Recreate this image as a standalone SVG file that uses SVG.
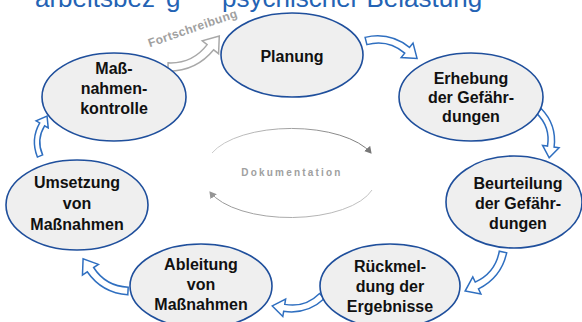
<svg xmlns="http://www.w3.org/2000/svg" xmlns:xlink="http://www.w3.org/1999/xlink" width="582" height="322" viewBox="0 0 582 322">
  <style>
    .node ellipse { fill: #efefef; stroke: #1f4f9c; stroke-width: 1.6; }
    .node text { font-family: "Liberation Sans", Arial, sans-serif; font-weight: bold; font-size: 16px; fill: #111; text-anchor: middle; }
    .title { font-family: "Liberation Sans", Arial, sans-serif; font-size: 26px; fill: #2463b4; }
    .blk { fill: #ffffff; stroke: #2f6fc0; stroke-width: 1.5; }
    .blk-gray { fill: #ffffff; stroke: #a8a8a8; stroke-width: 1.5; }
    .doc { fill: none; stroke-width: 1; }
    .lbl-gray { font-family: "Liberation Sans", Arial, sans-serif; font-weight: bold; fill: #a0a0a0; }
  </style>
  <defs>
    <path id="carrow" vector-effect="non-scaling-stroke" d="M-1.43,1.14 Q18,-8.2 37.43,1.14 L39.58,-3.15 L45.83,8.92 L32.42,11.15 L34.57,6.86 Q18,-1.8 1.43,6.86 Z"/>
    <linearGradient id="gUp" x1="0" y1="0" x2="1" y2="0">
      <stop offset="0" stop-color="#cccccc"/>
      <stop offset="1" stop-color="#777777"/>
    </linearGradient>
    <linearGradient id="gDn" x1="1" y1="0" x2="0" y2="0">
      <stop offset="0" stop-color="#c4c4c4"/>
      <stop offset="1" stop-color="#959595"/>
    </linearGradient>
    <marker id="mh" markerWidth="8" markerHeight="8" refX="6" refY="4" orient="auto" markerUnits="userSpaceOnUse">
      <path d="M0,0 L7,4 L0,8 Z" fill="#777777"/>
    </marker>
    <marker id="mh2" markerWidth="8" markerHeight="8" refX="6" refY="4" orient="auto" markerUnits="userSpaceOnUse">
      <path d="M0,0 L7,4 L0,8 Z" fill="#959595"/>
    </marker>
  </defs>

  <g id="title">
    <text class="title" x="35" y="7">arbeitsbez</text>
    <text class="title" x="166" y="7">g</text>
    <text class="title" x="222" y="7">psychischer Belastung</text>
  </g>

  <g id="connectors">
    <use href="#carrow" class="blk" transform="translate(366,41) rotate(12.7) scale(1.17) translate(0,-4)"/>
    <use href="#carrow" class="blk" transform="translate(539,111) rotate(71.6) scale(1.04) translate(0,-4)"/>
    <use href="#carrow" class="blk" transform="translate(503,252) rotate(128) scale(1.18) translate(0,-4)"/>
    <use href="#carrow" class="blk" transform="translate(322,296) rotate(162.6) scale(1.1) translate(0,-4)"/>
    <use href="#carrow" class="blk" transform="translate(128,291) rotate(209.6) scale(1.2) translate(0,-4)"/>
    <use href="#carrow" class="blk" transform="translate(40,156) rotate(-86.1) scale(0.88) translate(0,-4)"/>
    <use href="#carrow" class="blk-gray" transform="translate(168,67) rotate(-25) scale(1.3,-1.3) translate(0,-4)"/>
    <text class="lbl-gray" font-size="12" letter-spacing="0.4" text-anchor="middle" transform="translate(194,32) rotate(-19)">Fortschreibung</text>
    <path class="doc" stroke="url(#gUp)" marker-end="url(#mh)" d="M212,153 A85,38 0 0 1 371,153"/>
    <path class="doc" stroke="url(#gDn)" marker-end="url(#mh2)" d="M372,190 A85,38 0 0 1 210,192"/>
    <text class="lbl-gray" font-size="10" letter-spacing="2.2" fill="#828282" text-anchor="middle" x="292" y="176">Dokumentation</text>
  </g>

  <g id="n-planung" class="node">
    <ellipse cx="292" cy="55" rx="71" ry="42"/>
    <text x="292" y="62">Planung</text>
  </g>
  <g id="n-erhebung" class="node">
    <ellipse cx="471" cy="97" rx="72" ry="44"/>
    <text x="471" y="84">Erhebung</text>
    <text x="471" y="103">der Gefähr-</text>
    <text x="471" y="122">dungen</text>
  </g>
  <g id="n-beurteilung" class="node">
    <ellipse cx="514" cy="202" rx="68" ry="46"/>
    <text x="518" y="189">Beurteilung</text>
    <text x="518" y="209">der Gefähr-</text>
    <text x="518" y="229">dungen</text>
  </g>
  <g id="n-rueckmeldung" class="node">
    <ellipse cx="390" cy="286" rx="70" ry="42"/>
    <text x="390" y="272">Rückmel-</text>
    <text x="390" y="292">dung der</text>
    <text x="390" y="312">Ergebnisse</text>
  </g>
  <g id="n-ableitung" class="node">
    <ellipse cx="201" cy="286" rx="71" ry="42"/>
    <text x="201" y="270">Ableitung</text>
    <text x="201" y="290">von</text>
    <text x="201" y="310">Maßnahmen</text>
  </g>
  <g id="n-umsetzung" class="node">
    <ellipse cx="77" cy="205" rx="71" ry="45"/>
    <text x="77" y="188">Umsetzung</text>
    <text x="77" y="209">von</text>
    <text x="77" y="230">Maßnahmen</text>
  </g>
  <g id="n-kontrolle" class="node">
    <ellipse cx="114" cy="97" rx="72" ry="44"/>
    <text x="114" y="74">Maß-</text>
    <text x="114" y="94">nahmen-</text>
    <text x="114" y="114">kontrolle</text>
  </g>
</svg>
